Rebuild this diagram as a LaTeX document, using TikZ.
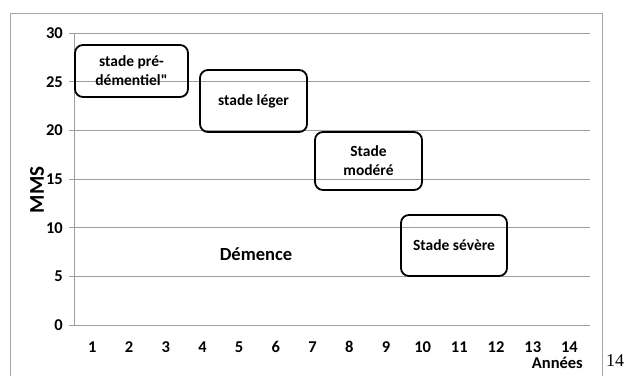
\documentclass[tikz,border=0pt]{standalone}
\usepackage{fontspec}
\setmainfont{Carlito}[Ligatures=TeXOff]
\newfontfamily\serifnum{Liberation Serif}
\begin{document}
\begin{tikzpicture}[x=1pt,y=-1pt,
  grid/.style={draw=black!38,line width=0.9pt},
  frame/.style={draw=black!35,line width=0.9pt},
  ticklbl/.style={font=\fontsize{16.5}{18}\selectfont\bfseries,inner sep=0pt},
  stage/.style={draw=black,line width=1.8pt,rounded corners=8pt,
    font=\fontsize{15.5}{19}\selectfont\bfseries,align=center,inner sep=0pt},
]
\useasboundingbox (0,0) rectangle (625,376);
% outer frame of the chart
\draw[frame] (10,376) -- (10,13) -- (602,13) -- (602,376);
% horizontal grid lines and y ticks, 5 MMS points = 48.67 px
\foreach \v [count=\i from 0] in {0,5,...,30}{
  \pgfmathsetmacro{\yy}{325-\i*48.67}
  \draw[grid] (69,\yy) -- (590,\yy);
  \node[ticklbl,anchor=base east] (y\v) at (63,\yy+5.5) {\v};
}
% y axis
\draw[grid] (74,33) -- (74,325);
% x category labels
\foreach \k in {1,...,14}{
  \pgfmathsetmacro{\xx}{74+36.7*(\k-0.5)}
  \node[ticklbl,anchor=base] (x\k) at (\xx,352.5) {\k};
}
\node[ticklbl,font=\fontsize{16.5}{18}\selectfont\bfseries,anchor=base east] (annees) at (583,368.5) {Années};
\node[ticklbl,font=\fontsize{21}{23}\selectfont\bfseries,rotate=90] (mms) at (37,190) {MMS};
% stages
\node[stage,minimum width=113pt,minimum height=52pt] (pre) at (131.5,71) {stade pré-\\démentiel"};
\node[stage,minimum width=107pt,minimum height=62pt] (leger) at (253.5,101) {stade léger};
\node[stage,minimum width=107pt,minimum height=58pt] (modere) at (368.5,161) {Stade\\modéré};
\node[stage,minimum width=106pt,minimum height=61pt] (severe) at (454,245.5) {Stade sévère};
\node[ticklbl,font=\fontsize{18.5}{21}\selectfont\bfseries] (demence) at (256,254) {Démence};
% page number
\node[font=\serifnum\fontsize{18}{20}\selectfont,inner sep=0pt] (page) at (615,361) {14};
\end{tikzpicture}
\end{document}
